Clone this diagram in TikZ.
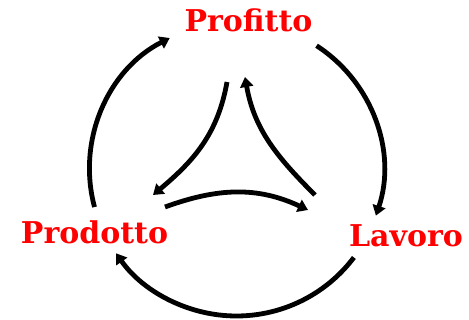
\documentclass[tikz,border=0pt]{standalone}
\usepackage{fontspec}
\setmainfont{DejaVu Serif}
\usetikzlibrary{arrows.meta,calc}
\begin{document}
\begin{tikzpicture}[x=1pt,y=1pt,
  lbl/.style={text=red,font=\bfseries\fontsize{30}{34}\selectfont,inner sep=0pt},
  flow/.style={line width=4.8pt,-{Triangle[length=10pt,width=13pt]}}]
\useasboundingbox (0,0) rectangle (469,-320);
\node[lbl] (prof) at (248.5,-20) {Profitto};
\node[lbl] (prod) at (94.5,-232) {Prodotto};
\node[lbl] (lav) at (406,-236) {Lavoro};
\coordinate (c) at (236.5,-169);
% outer arcs
\draw[flow] (c) ++(195:147) arc[start angle=195,end angle=117,radius=147];
\draw[flow] (c) ++(57:147) arc[start angle=57,end angle=-18.5,radius=147];
\draw[flow] (c) ++(-37:147) arc[start angle=-37,end angle=-145,radius=147];
% inner arrows
\coordinate (i1s) at (227,-82);
\coordinate (i1e) at (153,-195);
\coordinate (i2s) at (315,-195);
\coordinate (i2e) at (245,-77);
\coordinate (i3s) at (165,-207);
\coordinate (i3e) at (308,-210);
\draw[flow] (i1s) to[out=-100,in=40] (i1e);
\draw[flow] (i2s) to[out=135,in=-80] (i2e);
\draw[flow] (i3s) to[out=20,in=155] (i3e);
\end{tikzpicture}
\end{document}
